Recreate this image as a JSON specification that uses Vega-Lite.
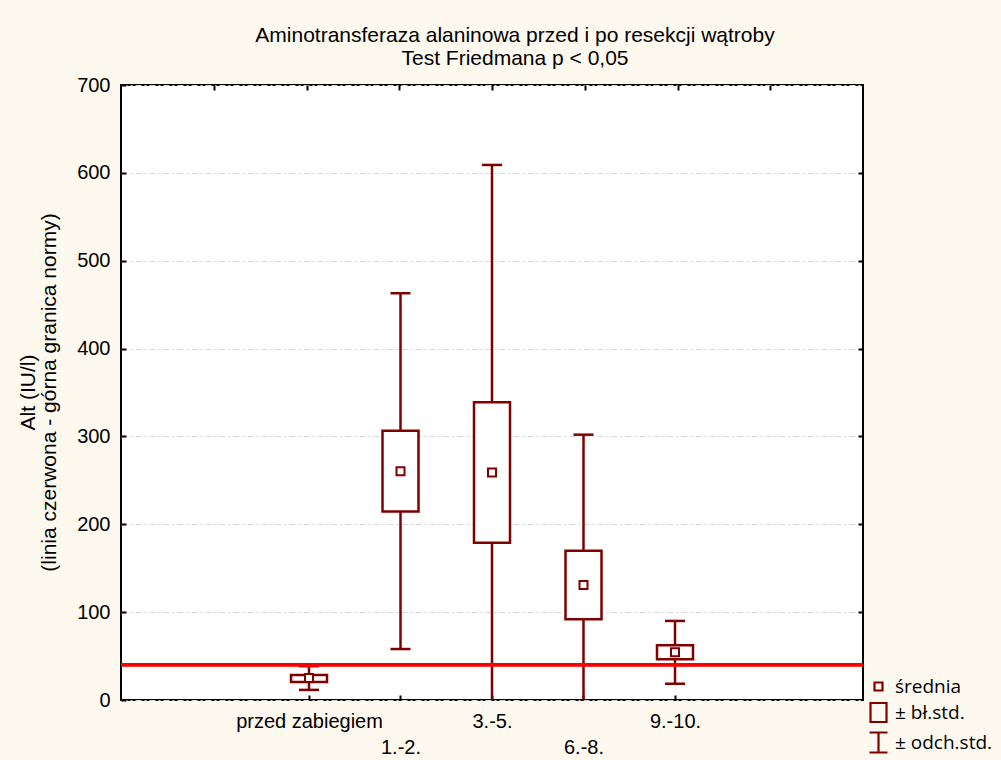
{
  "$schema": "https://vega.github.io/schema/vega-lite/v6.json",
  "width": 742,
  "height": 615,
  "autosize": "none",
  "padding": {"left": 121, "top": 85, "right": 138, "bottom": 60},
  "background": "#fdf9ef",
  "config": {
    "view": {"fill": "white", "stroke": "black", "strokeWidth": 2},
    "axis": {"domain": false, "labelColor": "black", "tickColor": "black"}
  },
  "title": {
    "text": ["Aminotransferaza alaninowa przed i po resekcji wątroby", "Test Friedmana p < 0,05"],
    "font": "Liberation Sans",
    "fontSize": 21,
    "fontWeight": "normal",
    "color": "black",
    "anchor": "middle",
    "dx": 23,
    "offset": 6,
    "lineHeight": 23
  },
  "datasets": {
    "stats": [
      {"cat": "przed zabiegiem", "pos": 2, "mean": 25, "seLo": 20.5, "seHi": 28.5, "sdLo": 11.5, "sdHi": 38.5},
      {"cat": "1.-2.", "pos": 3, "mean": 260.5, "seLo": 214.5, "seHi": 306.5, "sdLo": 58, "sdHi": 463},
      {"cat": "3.-5.", "pos": 4, "mean": 259, "seLo": 179, "seHi": 339, "sdLo": -91, "sdHi": 609},
      {"cat": "6.-8.", "pos": 5, "mean": 131, "seLo": 92, "seHi": 170, "sdLo": -40, "sdHi": 302},
      {"cat": "9.-10.", "pos": 6, "mean": 54.3, "seLo": 46.3, "seHi": 62.3, "sdLo": 18.5, "sdHi": 90}
    ],
    "legend": [
      {"item": "średnia", "pos": 2, "mean": 25},
      {"item": "± bł.std.", "pos": 2, "mean": 25},
      {"item": "± odch.std.", "pos": 2, "mean": 25}
    ]
  },
  "layer": [
    {
      "data": {"name": "stats"},
      "layer": [
        {
          "mark": {"type": "rule", "color": "#800000", "strokeWidth": 2.5, "clip": true},
          "encoding": {
            "x": {
              "field": "pos", "type": "quantitative",
              "scale": {"domain": [0, 8], "nice": false, "zero": false},
              "axis": {
                "orient": "bottom", "title": null, "values": [2, 3, 4, 5, 6],
                "labelExpr": "datum.value == 2 ? 'przed zabiegiem' : datum.value == 3 ? '1.-2.' : datum.value == 4 ? '3.-5.' : datum.value == 5 ? '6.-8.' : '9.-10.'",
                "labelFont": "Liberation Sans", "labelFontSize": 20,
                "labelPadding": {"condition": {"test": "datum.value % 2 == 1", "value": 42}, "value": 16},
                "tickSize": -5, "tickWidth": 2, "grid": false, "labelFlush": false,
                "labelOverlap": false, "labelBaseline": "top"
              }
            },
            "y": {
              "field": "sdLo", "type": "quantitative",
              "scale": {"domain": [0, 700], "nice": false},
              "axis": {
                "orient": "left", "values": [0, 100, 200, 300, 400, 500, 600, 700],
                "title": ["Alt (IU/l)", "(linia czerwona - górna granica normy)"],
                "titleFont": "Liberation Sans", "titleFontSize": 21, "titleFontWeight": "normal",
                "titleColor": "black", "titleLineHeight": 21, "titleX": -93, "titleY": 307,
                "titleAngle": -90, "titleAlign": "center", "titleBaseline": "middle",
                "labelFont": "Liberation Sans", "labelFontSize": 20, "labelPadding": 16,
                "tickSize": -5, "tickWidth": 2,
                "grid": true, "gridColor": "#d6d6d6", "gridDash": [6, 3, 2, 3], "gridWidth": 1
              }
            },
            "y2": {"field": "sdHi"}
          }
        },
        {
          "mark": {"type": "tick", "orient": "horizontal", "color": "#800000", "size": 20, "thickness": 2.5, "opacity": 1, "clip": true},
          "encoding": {"x": {"field": "pos", "type": "quantitative"}, "y": {"field": "sdHi", "type": "quantitative"}}
        },
        {
          "mark": {"type": "tick", "orient": "horizontal", "color": "#800000", "size": 20, "thickness": 2.5, "opacity": 1, "clip": true},
          "encoding": {"x": {"field": "pos", "type": "quantitative"}, "y": {"field": "sdLo", "type": "quantitative"}}
        },
        {
          "mark": {"type": "rule", "color": "#ff0000", "strokeWidth": 3},
          "encoding": {"y": {"datum": 40}}
        },
        {
          "mark": {"type": "bar", "width": 36, "fill": "white", "stroke": "#800000", "strokeWidth": 2.5},
          "encoding": {"x": {"field": "pos", "type": "quantitative"}, "y": {"field": "seLo", "type": "quantitative"}, "y2": {"field": "seHi"}}
        },
        {
          "mark": {"type": "point", "shape": "square", "size": 64, "filled": false, "fill": "white", "stroke": "#800000", "strokeWidth": 2, "opacity": 1},
          "encoding": {"x": {"field": "pos", "type": "quantitative"}, "y": {"field": "mean", "type": "quantitative"}}
        }
      ]
    },
    {
      "data": {"name": "legend"},
      "mark": {"type": "point", "opacity": 0, "filled": false},
      "encoding": {
        "x": {
          "field": "pos", "type": "quantitative",
          "scale": {"domain": [0, 8], "nice": false, "zero": false},
          "axis": {"orient": "top", "title": null, "values": [1, 2, 3, 4, 5, 6, 7], "labels": false, "tickSize": -5, "tickWidth": 2, "grid": false}
        },
        "y": {
          "field": "mean", "type": "quantitative",
          "scale": {"domain": [0, 700], "nice": false},
          "axis": {"orient": "right", "title": null, "values": [100, 200, 300, 400, 500, 600], "labels": false, "tickSize": -5, "tickWidth": 2, "grid": false}
        },
        "shape": {
          "field": "item", "type": "nominal",
          "scale": {
            "domain": ["średnia", "± bł.std.", "± odch.std."],
            "range": [
              "M-0.4,-0.4H0.4V0.4H-0.4Z",
              "M-0.8,-0.95H0.8V0.95H-0.8Z",
              "M-0.9,-1H0.9M0,-1V1M-0.9,1H0.9"
            ]
          },
          "legend": {
            "title": null, "orient": "none", "legendX": 746, "legendY": 590,
            "symbolSize": 400, "symbolStrokeColor": "#800000", "symbolFillColor": "transparent",
            "symbolStrokeWidth": 2.2, "symbolOpacity": 1, "labelFont": "Open Sans", "labelFontSize": 19,
            "labelColor": "black", "rowPadding": 1, "labelOffset": 5, "symbolOffset": 0
          }
        }
      }
    }
  ],
  "resolve": {"scale": {"x": "independent", "y": "independent"}}
}
